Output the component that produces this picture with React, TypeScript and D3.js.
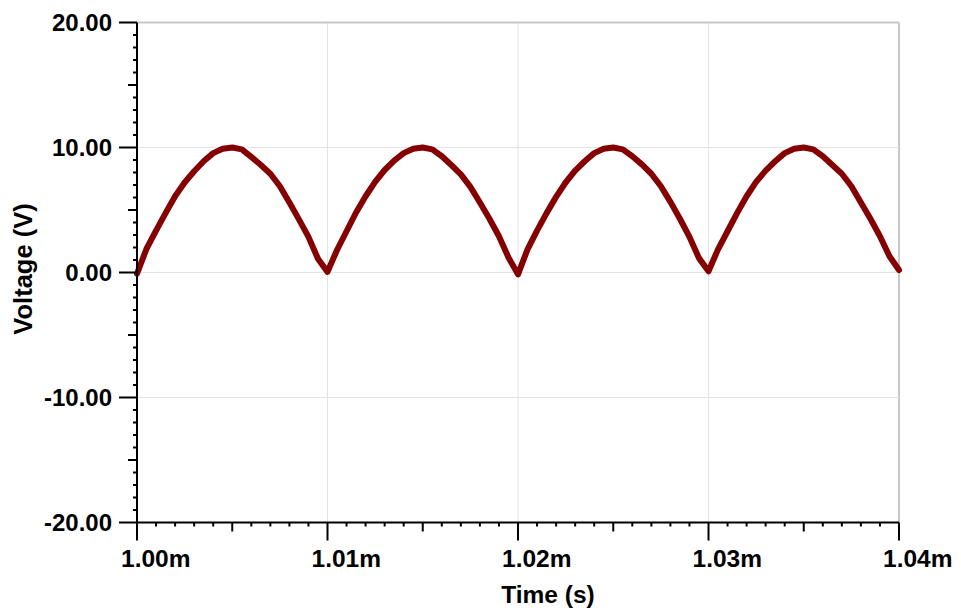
import React from "react";
import * as d3 from "d3";

// Time in milliseconds (axis labels use "m" suffix)
const timeMs: number[] = [
  1.0, 1.0005, 1.001, 1.0015, 1.002, 1.0025, 1.003, 1.0035, 1.004, 1.0045,
  1.005, 1.0055, 1.006, 1.0065, 1.007, 1.0075, 1.008, 1.0085, 1.009, 1.0095,
  1.01, 1.0105, 1.011, 1.0115, 1.012, 1.0125, 1.013, 1.0135, 1.014, 1.0145,
  1.015, 1.0155, 1.016, 1.0165, 1.017, 1.0175, 1.018, 1.0185, 1.019, 1.0195,
  1.02, 1.0205, 1.021, 1.0215, 1.022, 1.0225, 1.023, 1.0235, 1.024, 1.0245,
  1.025, 1.0255, 1.026, 1.0265, 1.027, 1.0275, 1.028, 1.0285, 1.029, 1.0295,
  1.03, 1.0305, 1.031, 1.0315, 1.032, 1.0325, 1.033, 1.0335, 1.034, 1.0345,
  1.035, 1.0355, 1.036, 1.0365, 1.037, 1.0375, 1.038, 1.0385, 1.039, 1.0395,
  1.04,
];

const voltage: number[] = [
  -0.1, 1.9, 3.35, 4.75, 6.1, 7.2, 8.1, 8.9, 9.55, 9.9,
  10.0, 9.85, 9.25, 8.6, 7.9, 6.9, 5.6, 4.25, 2.85, 1.1,
  0.05, 1.8, 3.3, 4.8, 6.1, 7.25, 8.2, 8.95, 9.55, 9.9,
  10.0, 9.85, 9.3, 8.6, 7.85, 6.85, 5.6, 4.3, 2.9, 1.2,
  -0.15, 1.85, 3.35, 4.75, 6.05, 7.2, 8.15, 8.9, 9.55, 9.9,
  10.0, 9.85, 9.3, 8.65, 7.9, 6.9, 5.65, 4.3, 2.85, 1.15,
  0.1, 1.85, 3.3, 4.75, 6.1, 7.25, 8.15, 8.9, 9.55, 9.9,
  10.0, 9.85, 9.3, 8.6, 7.9, 6.9, 5.6, 4.3, 2.9, 1.3,
  0.2,
];

const xMajorTicks: number[] = [1.0, 1.01, 1.02, 1.03, 1.04];
const xTickLabels: string[] = ["1.00m", "1.01m", "1.02m", "1.03m", "1.04m"];
const yMajorTicks: number[] = [-20, -10, 0, 10, 20];
const yTickLabels: string[] = ["-20.00", "-10.00", "0.00", "10.00", "20.00"];

const xTitle = "Time (s)";
const yTitle = "Voltage (V)";

const W = 961;
const H = 611;
const left = 137;
const right = 899;
const top = 22.5;
const bottom = 522.5;
const FONT = "'Liberation Sans', Arial, sans-serif";

export default function App() {
  const x = d3.scaleLinear().domain([1.0, 1.04]).range([left, right]);
  const y = d3.scaleLinear().domain([-20, 20]).range([bottom, top]);

  const line = d3
    .line<number>()
    .x((_, i) => x(timeMs[i]))
    .y((v) => y(v));

  const xMinor = d3.range(0, 41).map((i) => 1.0 + i * 0.001);
  const yMinor = d3.range(0, 41).map((i) => -20 + i);

  const gridLight = "#e3e3e3";
  const gridDark = "#c8c8c8";

  return (
    <svg
      width={W}
      height={H}
      style={{ position: "fixed", top: 0, left: 0, background: "#fff" }}
    >
      <rect x={0} y={0} width={W} height={H} fill="#fff" />
      {/* grid */}
      {xMajorTicks.slice(1).map((t, i) => (
        <line
          key={"gx" + i}
          x1={x(t)}
          x2={x(t)}
          y1={top}
          y2={bottom}
          stroke={i === xMajorTicks.length - 2 ? gridDark : gridLight}
          strokeWidth={i === xMajorTicks.length - 2 ? 2 : 1}
        />
      ))}
      {yMajorTicks.slice(1).map((t, i) => (
        <line
          key={"gy" + i}
          x1={left}
          x2={right}
          y1={y(t)}
          y2={y(t)}
          stroke={i === yMajorTicks.length - 2 ? gridDark : gridLight}
          strokeWidth={i === yMajorTicks.length - 2 ? 2 : 1}
        />
      ))}

      {/* data */}
      <path
        d={line(voltage) || ""}
        fill="none"
        stroke="#850000"
        strokeWidth={6}
        strokeLinejoin="round"
        strokeLinecap="round"
      />

      {/* axes */}
      <line x1={left} x2={left} y1={top} y2={bottom} stroke="#000" strokeWidth={2} />
      <line x1={left} x2={right} y1={bottom} y2={bottom} stroke="#000" strokeWidth={2} />

      {yMinor.map((v, i) => {
        const isMajor = i % 10 === 0;
        const isMid = i % 5 === 0;
        const len = isMajor ? 18 : isMid ? 9 : 4;
        return (
          <line
            key={"yt" + i}
            x1={left - len}
            x2={left}
            y1={y(v)}
            y2={y(v)}
            stroke="#000"
            strokeWidth={2}
          />
        );
      })}
      {xMinor.map((v, i) => {
        const isMajor = i % 10 === 0;
        const isMid = i % 5 === 0;
        const len = isMajor ? 18 : isMid ? 9 : 4;
        return (
          <line
            key={"xt" + i}
            x1={x(v)}
            x2={x(v)}
            y1={bottom}
            y2={bottom + len}
            stroke="#000"
            strokeWidth={2}
          />
        );
      })}

      {/* tick labels */}
      {yMajorTicks.map((t, i) => (
        <text
          key={"yl" + i}
          x={112}
          y={y(t) + 8.5}
          textAnchor="end"
          fontFamily={FONT}
          fontWeight="bold"
          fontSize={24}
          fill="#000"
        >
          {yTickLabels[i]}
        </text>
      ))}
      {xMajorTicks.map((t, i) => (
        <text
          key={"xl" + i}
          x={x(t) - 16}
          y={567}
          textAnchor="start"
          fontFamily={FONT}
          fontWeight="bold"
          fontSize={24.5}
          fill="#000"
        >
          {xTickLabels[i]}
        </text>
      ))}

      {/* titles */}
      <text
        x={548}
        y={603}
        textAnchor="middle"
        fontFamily={FONT}
        fontWeight="bold"
        fontSize={24.5}
        fill="#000"
      >
        {xTitle}
      </text>
      <text
        transform={`translate(32, 269) rotate(-90)`}
        textAnchor="middle"
        fontFamily={FONT}
        fontWeight="bold"
        fontSize={25.5}
        fill="#000"
      >
        {yTitle}
      </text>
    </svg>
  );
}
